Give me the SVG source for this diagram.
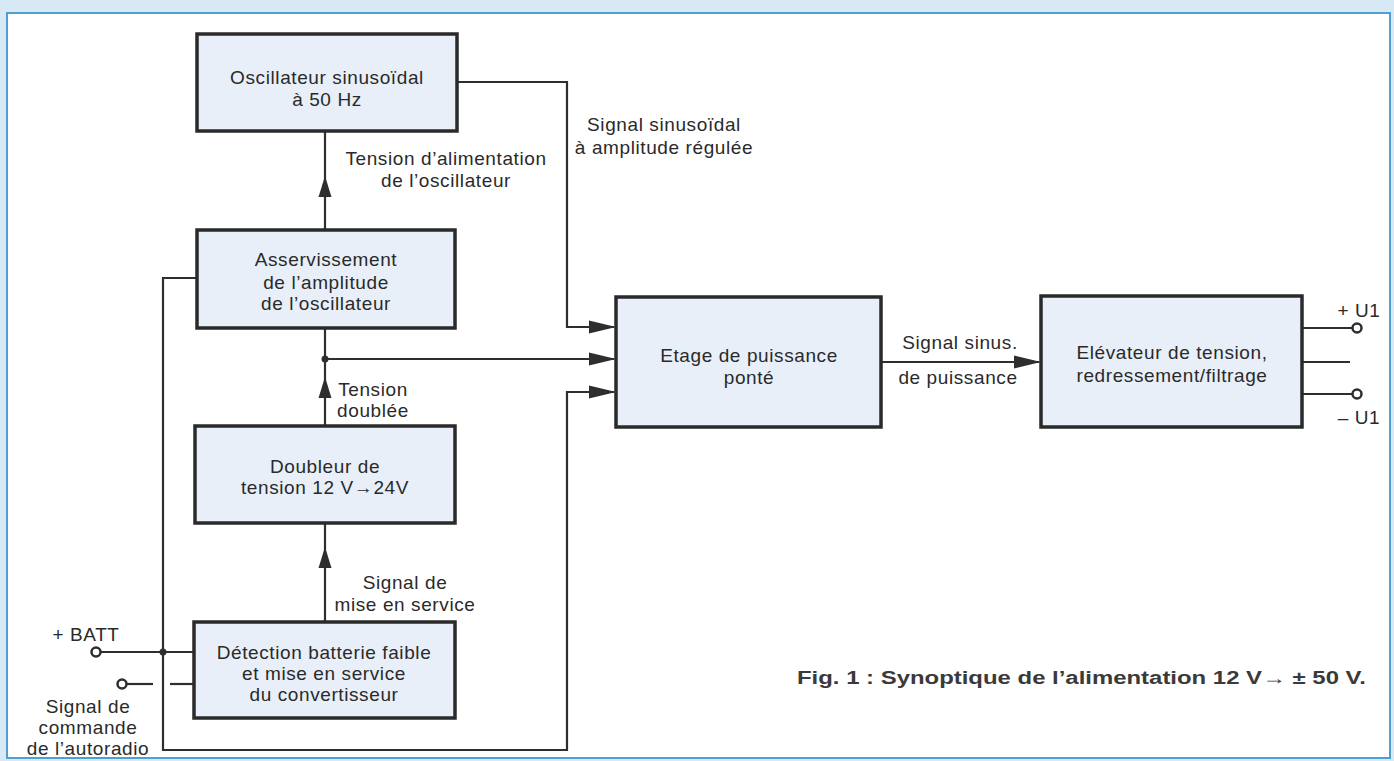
<svg xmlns="http://www.w3.org/2000/svg" width="1394" height="761" viewBox="0 0 1394 761">
<style>
.box{fill:#e8eff9;stroke:#2a2a2a;stroke-width:3.5}
.ln{fill:none;stroke:#2e2e2e;stroke-width:2.2}
.t{font-family:"Liberation Sans",Arial,sans-serif;font-size:19px;fill:#2a2a2a;text-anchor:middle;letter-spacing:0.6px}
.term{fill:#fff;stroke:#2e2e2e;stroke-width:2.5}
.dot{fill:#2e2e2e}
.cap{font-family:"Liberation Sans",Arial,sans-serif;font-size:18px;font-weight:bold;fill:#3a3a3a}
</style>
<defs>
<path id="ah" d="M0,0 L-27,-6.5 L-27,6.5 Z" fill="#2e2e2e"/>
<path id="av" d="M0,0 L-6.5,21 L6.5,21 Z" fill="#2e2e2e"/>
</defs>
<rect x="0" y="0" width="1394" height="761" fill="#d6e9f4"/>
<rect x="7" y="13" width="1383" height="745" fill="#ffffff" stroke="#4f9fd0" stroke-width="2"/>

<g id="connectors">
<polyline class="ln" points="457,82 567,82 567,327 614,327"/>
<line class="ln" x1="325" y1="359" x2="614" y2="359"/>
<polyline class="ln" points="197,278 163,278 163,750 567,750 567,392 614,392"/>
<line class="ln" x1="100" y1="652" x2="195" y2="652"/>
<line class="ln" x1="126" y1="684" x2="153" y2="684"/>
<line class="ln" x1="170" y1="684" x2="195" y2="684"/>
<line class="ln" x1="325" y1="131" x2="325" y2="230"/>
<line class="ln" x1="325" y1="328" x2="325" y2="426"/>
<line class="ln" x1="325" y1="523" x2="325" y2="622"/>
<line class="ln" x1="881" y1="362" x2="1039" y2="362"/>
<line class="ln" x1="1302" y1="328" x2="1353" y2="328"/>
<line class="ln" x1="1302" y1="362" x2="1350" y2="362"/>
<line class="ln" x1="1302" y1="394" x2="1353" y2="394"/>
<use href="#ah" x="616" y="327"/>
<use href="#ah" x="616" y="359"/>
<use href="#ah" x="616" y="392"/>
<use href="#ah" x="1041" y="362"/>
<use href="#av" x="325" y="176"/>
<use href="#av" x="325" y="377"/>
<use href="#av" x="325" y="547"/>
<circle class="dot" cx="325" cy="359" r="3.5"/>
<circle class="dot" cx="163" cy="652" r="3.5"/>
<circle class="term" cx="96" cy="652" r="4.5"/>
<circle class="term" cx="122" cy="684" r="4.5"/>
<circle class="term" cx="1357" cy="328" r="4.5"/>
<circle class="term" cx="1357" cy="394" r="4.5"/>
<text class="t" x="446" y="165">Tension d’alimentation</text>
<text class="t" x="446" y="187">de l’oscillateur</text>
<text class="t" x="664" y="131">Signal sinusoïdal</text>
<text class="t" x="664" y="154">à amplitude régulée</text>
<text class="t" x="373" y="396">Tension</text>
<text class="t" x="373" y="417">doublée</text>
<text class="t" x="405" y="589">Signal de</text>
<text class="t" x="405" y="611">mise en service</text>
<text class="t" x="960" y="349">Signal sinus.</text>
<text class="t" x="958" y="384">de puissance</text>
<text class="t" x="86" y="641">+ BATT</text>
<text class="t" x="88" y="713">Signal de</text>
<text class="t" x="88" y="734">commande</text>
<text class="t" x="88" y="755">de l’autoradio</text>
<text class="t" x="1359" y="317">+ U1</text>
<text class="t" x="1359" y="424">– U1</text>
</g>

<g id="oscillateur">
<rect class="box" x="197" y="34" width="260" height="97"/>
<text class="t" x="327" y="84">Oscillateur sinusoïdal</text>
<text class="t" x="327" y="106">à 50 Hz</text>
</g>
<g id="asservissement">
<rect class="box" x="197" y="230" width="258" height="98"/>
<text class="t" x="326" y="266">Asservissement</text>
<text class="t" x="326" y="289">de l’amplitude</text>
<text class="t" x="326" y="310">de l’oscillateur</text>
</g>
<g id="doubleur">
<rect class="box" x="195" y="426" width="260" height="97"/>
<text class="t" x="325" y="473">Doubleur de</text>
<text class="t" x="325" y="494">tension 12 V→24V</text>
</g>
<g id="detection">
<rect class="box" x="194" y="622" width="261" height="96"/>
<text class="t" x="324" y="659">Détection batterie faible</text>
<text class="t" x="324" y="680">et mise en service</text>
<text class="t" x="324" y="701">du convertisseur</text>
</g>
<g id="etage">
<rect class="box" x="616" y="297" width="265" height="130"/>
<text class="t" x="749" y="362">Etage de puissance</text>
<text class="t" x="749" y="384">ponté</text>
</g>
<g id="elevateur">
<rect class="box" x="1041" y="296" width="261" height="131"/>
<text class="t" x="1172" y="359">Elévateur de tension,</text>
<text class="t" x="1172" y="382">redressement/filtrage</text>
</g>
<g id="caption">
<text class="cap" x="797" y="684" textLength="569" lengthAdjust="spacingAndGlyphs">Fig. 1 : Synoptique de l’alimentation 12 V→ ± 50 V.</text>
</g>
</svg>
